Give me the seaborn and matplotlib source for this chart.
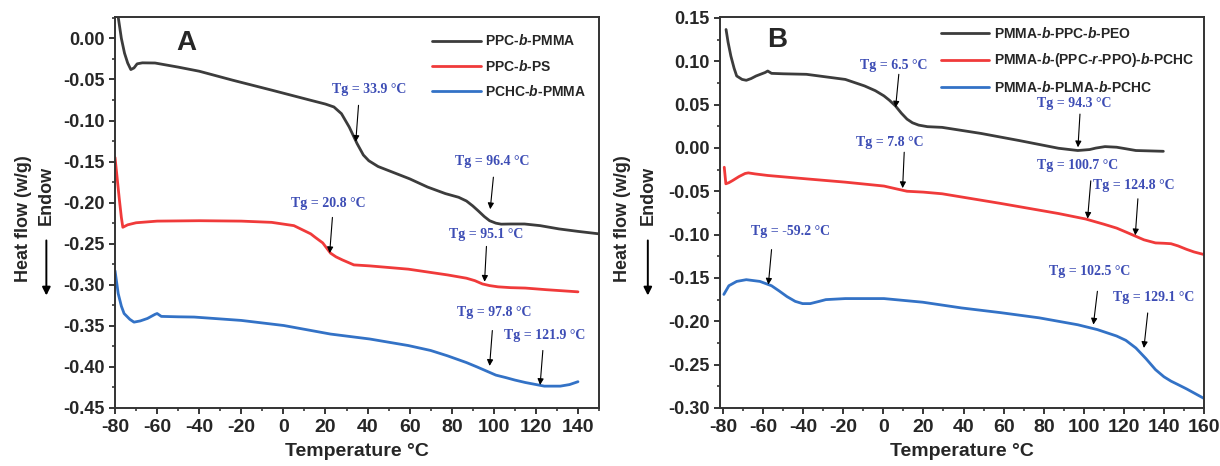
import matplotlib
matplotlib.use("Agg")
import matplotlib.pyplot as plt
import seaborn as sns
import pandas as pd
from matplotlib.ticker import MultipleLocator, FormatStrFormatter

# ---- panel A data ----
t_ppc_pmma = [-79, -78.5, -77, -75.5, -74, -72.5, -71, -69.5, -67, -61, -50, -40, -24, -5.6, 13, 20, 24,
              27.6, 31.3, 35, 38, 40.6, 45, 50, 60, 68.5, 77, 83.3, 87, 90, 92.6, 95.5, 98, 101, 103.5,
              108, 114.6, 122, 131, 140, 150]
hf_ppc_pmma = [0.03, 0.026, 0.0, -0.018, -0.030, -0.038, -0.036, -0.031, -0.0298, -0.030, -0.035, -0.040,
               -0.051, -0.063, -0.0754, -0.080, -0.0835, -0.0917, -0.108, -0.128, -0.142, -0.149, -0.156,
               -0.161, -0.171, -0.181, -0.189, -0.1935, -0.198, -0.204, -0.21, -0.217, -0.222, -0.225,
               -0.2262, -0.226, -0.226, -0.228, -0.232, -0.235, -0.238]

t_ppc_ps = [-80, -79, -78, -77, -76.3, -74, -70, -60, -40, -20, -5.6, 5, 9.4, 13, 15, 18.7, 22.4, 25, 28,
            33.5, 41, 59.4, 78, 87, 91, 94.6, 98, 102, 108, 115, 125, 140]
hf_ppc_ps = [-0.145, -0.170, -0.195, -0.218, -0.230, -0.227, -0.2245, -0.2225, -0.222, -0.2225, -0.224,
             -0.228, -0.2335, -0.238, -0.242, -0.249, -0.2615, -0.266, -0.2697, -0.2758, -0.277, -0.281,
             -0.288, -0.292, -0.295, -0.299, -0.301, -0.3025, -0.3035, -0.304, -0.306, -0.3086]

t_pchc_pmma = [-80, -78.5, -77, -75.7, -73, -71, -68, -64.6, -61, -60, -58, -50, -42.4, -20, 0.2, 22.4, 41,
               59.4, 70, 78, 87, 92, 96.5, 101, 105.7, 110, 115, 124, 131.6, 136, 140]
hf_pchc_pmma = [-0.283, -0.3107, -0.326, -0.335, -0.342, -0.3455, -0.344, -0.341, -0.336, -0.335, -0.3385,
                -0.339, -0.3393, -0.3434, -0.3496, -0.36, -0.366, -0.374, -0.380, -0.3865, -0.3947, -0.400,
                -0.405, -0.410, -0.413, -0.416, -0.419, -0.4234, -0.4234, -0.4215, -0.418]

# ---- panel B data ----
t_peo = [-78.5, -77.5, -76.1, -74.5, -73.2, -70.5, -68.4, -66, -63.5, -59, -57.7, -55.8, -50, -38.4, -19,
         -9.4, -4, 0.3, 3, 6, 9, 11.8, 14.5, 17.6, 22, 29.3, 48.7, 68, 87.4, 97, 102.9, 106, 110.6, 116.4,
         121, 126, 139.7]
hf_peo = [0.1366, 0.122, 0.106, 0.092, 0.083, 0.079, 0.078, 0.080, 0.083, 0.087, 0.0887, 0.086, 0.0855,
          0.0849, 0.079, 0.0715, 0.066, 0.06, 0.055, 0.0485, 0.040, 0.0332, 0.029, 0.0263, 0.0245, 0.0237,
          0.0167, 0.0084, -0.0004, -0.003, -0.0019, -0.0002, 0.0015, 0.0008, -0.001, -0.003, -0.0039]

t_ppo = [-79.4, -78.6, -77, -75.2, -72, -69, -67.4, -64, -57.7, -38.4, -19, 0.3, 6, 11.8, 20, 29.3, 58.4,
         87.4, 100.9, 110, 116.4, 121, 126, 130, 135.8, 140, 143.5, 147, 151.3, 155, 160]
hf_ppo = [-0.0223, -0.0414, -0.040, -0.0376, -0.033, -0.0295, -0.0288, -0.030, -0.0318, -0.0357, -0.0395,
          -0.044, -0.047, -0.050, -0.051, -0.0529, -0.064, -0.0757, -0.082, -0.088, -0.0925, -0.097, -0.102,
          -0.106, -0.1096, -0.110, -0.1105, -0.113, -0.117, -0.120, -0.123]

t_plma = [-79.6, -77.1, -73.2, -68.4, -61.6, -55.8, -52, -48.1, -44, -40.3, -36.5, -32, -28.7, -19, 0.3,
          19.7, 39, 58.4, 77.7, 97, 106.8, 116.4, 121, 126, 131, 135.8, 140, 143.5, 147, 151.3, 160]
hf_plma = [-0.169, -0.159, -0.154, -0.152, -0.154, -0.159, -0.165, -0.1715, -0.177, -0.1796, -0.1796,
           -0.177, -0.175, -0.1738, -0.1738, -0.178, -0.1846, -0.19, -0.196, -0.204, -0.2096, -0.217,
           -0.222, -0.2308, -0.243, -0.2558, -0.264, -0.269, -0.273, -0.278, -0.289]

names_a = ["PPC-$\\mathit{b}$-PMMA", "PPC-$\\mathit{b}$-PS", "PCHC-$\\mathit{b}$-PMMA"]
names_b = ["PMMA-$\\mathit{b}$-PPC-$\\mathit{b}$-PEO",
           "PMMA-$\\mathit{b}$-(PPC-$\\mathit{r}$-PPO)-$\\mathit{b}$-PCHC",
           "PMMA-$\\mathit{b}$-PLMA-$\\mathit{b}$-PCHC"]
colors = ["#3c3c3c", "#f03a3a", "#3372c6"]

# (label, text x, text y, arrow tail x, tail y, tip x, tip y)
notes_a = [("Tg = 33.9 °C", 41, -0.062, 35.7, -0.0815, 34.4, -0.126),
           ("Tg = 96.4 °C", 99.3, -0.150, 99.8, -0.169, 98.3, -0.208),
           ("Tg = 20.8 °C", 21.5, -0.2005, 23.3, -0.218, 22, -0.2615),
           ("Tg = 95.1 °C", 96.5, -0.239, 96.5, -0.2533, 95.6, -0.2963),
           ("Tg = 97.8 °C", 100.2, -0.3332, 99.3, -0.3557, 98, -0.3988),
           ("Tg = 121.9 °C", 124.3, -0.362, 123.3, -0.380, 122, -0.422)]
notes_b = [("Tg = 6.5 °C", 5.2, 0.0953, 7.7, 0.0849, 6.1, 0.0466),
           ("Tg = 94.3 °C", 95.1, 0.0516, 98.1, 0.039, 97.1, 0.0007),
           ("Tg = 7.8 °C", 3.2, 0.0064, 10.4, -0.005, 9.6, -0.0464),
           ("Tg = 100.7 °C", 97.1, -0.0204, 103.5, -0.038, 101.9, -0.0816),
           ("Tg = 124.8 °C", 125.2, -0.0433, 127, -0.0587, 125.7, -0.1008),
           ("Tg = -59.2 °C", -46.1, -0.0965, -55.8, -0.1173, -57.4, -0.1577),
           ("Tg = 102.5 °C", 102.9, -0.1423, 106.8, -0.1654, 104.8, -0.2038),
           ("Tg = 129.1 °C", 134.8, -0.173, 131.9, -0.1904, 130, -0.2308)]

sns.set_style("ticks")
plt.rcParams["font.family"] = ["Liberation Sans", "DejaVu Sans"]
plt.rcParams["font.weight"] = "bold"
plt.rcParams["axes.unicode_minus"] = False
plt.rcParams["mathtext.fontset"] = "custom"
plt.rcParams["mathtext.rm"] = "Liberation Sans:bold"
plt.rcParams["mathtext.it"] = "Liberation Sans:italic:bold"

df_a = pd.concat([
    pd.DataFrame({"T": t_ppc_pmma, "hf": hf_ppc_pmma, "sample": names_a[0]}),
    pd.DataFrame({"T": t_ppc_ps, "hf": hf_ppc_ps, "sample": names_a[1]}),
    pd.DataFrame({"T": t_pchc_pmma, "hf": hf_pchc_pmma, "sample": names_a[2]}),
])
df_b = pd.concat([
    pd.DataFrame({"T": t_peo, "hf": hf_peo, "sample": names_b[0]}),
    pd.DataFrame({"T": t_ppo, "hf": hf_ppo, "sample": names_b[1]}),
    pd.DataFrame({"T": t_plma, "hf": hf_plma, "sample": names_b[2]}),
])

fig = plt.figure(figsize=(12.2, 4.66), dpi=100)
ax_a = fig.add_axes([0.0943, 0.1245, 0.3967, 0.839])
ax_b = fig.add_axes([0.5902, 0.1245, 0.3967, 0.839])

panels = [
    (ax_a, df_a, names_a, notes_a, (-80, 150), (-0.45, 0.026), "A", (-46, -0.006), (0.655, 0.958)),
    (ax_b, df_b, names_b, notes_b, (-81.5, 160), (-0.30, 0.151), "B", (-52.9, 0.125), (0.456, 0.977)),
]

for ax, df, names, notes, xlim, ylim, letter, lpos, legpos in panels:
    sns.lineplot(data=df, x="T", y="hf", hue="sample", palette=dict(zip(names, colors)),
                 sort=False, estimator=None, lw=2.0, ax=ax)
    ax.set_xlim(*xlim)
    ax.set_ylim(*ylim)
    ax.xaxis.set_major_locator(MultipleLocator(20))
    ax.xaxis.set_minor_locator(MultipleLocator(10))
    ax.yaxis.set_major_locator(MultipleLocator(0.05))
    ax.yaxis.set_minor_locator(MultipleLocator(0.025))
    ax.yaxis.set_major_formatter(FormatStrFormatter("%.2f"))
    ax.tick_params(which="major", direction="out", length=4.5, width=1.3, pad=3)
    ax.tick_params(axis="x", which="major", labelsize=14, pad=3.5)
    ax.tick_params(axis="y", which="major", labelsize=13)
    ax.tick_params(which="minor", direction="out", length=2.5, width=1.1)
    for lab in ax.get_xticklabels() + ax.get_yticklabels():
        lab.set_fontweight("bold")
    for sp in ax.spines.values():
        sp.set_linewidth(1.4)
        sp.set_color("#333333")
    ax.set_xlabel("Temperature °C", fontsize=14, fontweight="bold", labelpad=5)
    ax.set_ylabel("")
    ax.text(lpos[0], lpos[1], letter, fontsize=20, fontweight="bold", ha="center", va="center")

    for lab, tx, ty, ax0, ay0, ax1, ay1 in notes:
        ax.text(tx, ty, lab, color="#3d4db5", fontsize=10, fontweight="bold",
                family=["Liberation Serif", "DejaVu Serif"], ha="center", va="center")
        ax.annotate("", xy=(ax1, ay1), xytext=(ax0, ay0),
                    arrowprops=dict(arrowstyle="-|>", color="black", lw=0.8,
                                    mutation_scale=9, shrinkA=0, shrinkB=0))

    sns.move_legend(ax, "upper left", bbox_to_anchor=legpos, frameon=False, title=None,
                    fontsize=10, handlelength=3.5, handletextpad=0.3, labelspacing=0.75,
                    borderpad=0, borderaxespad=0)

# y-axis labels with the endotherm arrow
for x0, x1 in [(0.019, 0.038), (0.51, 0.531)]:
    fig.text(x0, 0.53, "Heat flow (w/g)", rotation=90, ha="center", va="center",
             fontsize=13, fontweight="bold")
    fig.text(x1, 0.58, "Endow", rotation=90, ha="center", va="center",
             fontsize=13, fontweight="bold")
    fig.patches.append(matplotlib.patches.FancyArrowPatch(
        (x1, 0.49), (x1, 0.36), transform=fig.transFigure, arrowstyle="-|>",
        mutation_scale=12, lw=1.4, color="black"))

fig.savefig("out.png", dpi=100)
